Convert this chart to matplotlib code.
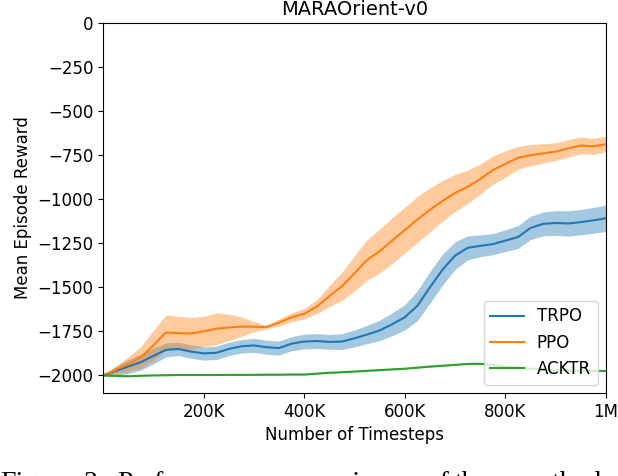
import numpy as np
import matplotlib
matplotlib.use("Agg")
import matplotlib.pyplot as plt
from matplotlib.ticker import FixedLocator, FixedFormatter

# Timesteps (thousands)
steps_k = [0, 25, 50, 75, 100, 125, 150, 175, 200, 225, 250, 275, 300, 325, 350,
           375, 400, 425, 450, 475, 500, 525, 550, 575, 600, 625, 650, 675, 700,
           725, 750, 775, 800, 825, 850, 875, 900, 925, 950, 975, 1000]

trpo_mean = [-2000, -1975, -1950, -1925, -1890, -1855, -1850, -1865, -1875, -1872,
             -1850, -1835, -1830, -1840, -1845, -1820, -1808, -1805, -1810, -1808,
             -1790, -1768, -1745, -1710, -1670, -1605, -1500, -1400, -1320, -1276,
             -1265, -1255, -1235, -1215, -1163, -1140, -1135, -1138, -1130, -1120, -1108]
trpo_std = [5, 25, 40, 45, 45, 40, 38, 38, 38, 38, 38, 38, 40, 40, 40, 40, 42, 42,
            42, 45, 48, 52, 58, 65, 72, 85, 90, 88, 78, 68, 62, 60, 62, 65, 66, 68,
            70, 72, 72, 73, 75]

ppo_mean = [-2000, -1970, -1935, -1898, -1830, -1757, -1760, -1762, -1750, -1735,
            -1728, -1723, -1724, -1726, -1700, -1670, -1650, -1610, -1550, -1495,
            -1420, -1345, -1295, -1235, -1175, -1115, -1060, -1010, -965, -930,
            -885, -835, -800, -765, -750, -740, -730, -712, -695, -700, -688]
ppo_std = [5, 20, 40, 60, 85, 100, 95, 90, 85, 90, 75, 55, 30, 10, 20, 25, 30, 40,
           60, 80, 100, 115, 125, 130, 130, 130, 125, 115, 105, 95, 85, 80, 75, 65,
           60, 55, 50, 50, 48, 45, 45]

acktr_mean = [-2000, -2003, -2005, -2002, -2000, -1999, -1998, -1998, -1998, -1998,
              -1997, -1997, -1997, -1996, -1996, -1995, -1995, -1990, -1985, -1982,
              -1978, -1974, -1970, -1966, -1962, -1956, -1950, -1945, -1940, -1935,
              -1934, -1940, -1950, -1956, -1962, -1966, -1970, -1972, -1975, -1975, -1975]
acktr_std = [2, 3, 3, 3, 3, 3, 3, 3, 3, 3, 3, 3, 3, 3, 3, 3, 3, 3, 3, 3, 3, 3, 3,
             3, 3, 3, 3, 3, 3, 3, 3, 3, 3, 3, 3, 3, 3, 3, 3, 3, 3]

series_names = ["TRPO", "PPO", "ACKTR"]
series_colors = ["#1f77b4", "#ff7f0e", "#2ca02c"]

xtick_vals = [200000, 400000, 600000, 800000, 1000000]
xtick_labels = ["200K", "400K", "600K", "800K", "1M"]
ytick_vals = [0, -250, -500, -750, -1000, -1250, -1500, -1750, -2000]

caption_words = ["Figure", "3:", "Performance", "comparisons", "of", "the", "methods"]
caption_x_px = [0, 84, 117, 269, 426, 455, 518]

fig = plt.figure(figsize=(6.18, 4.76), dpi=100)
ax = fig.add_axes([103 / 618, 1 - 393 / 476, (606 - 103) / 618, (393 - 23) / 476])

x = np.array(steps_k) * 1000.0
for mean, std, name, col in zip([trpo_mean, ppo_mean, acktr_mean],
                                [trpo_std, ppo_std, acktr_std],
                                series_names, series_colors):
    m = np.array(mean, dtype=float)
    s = np.array(std, dtype=float)
    ax.plot(x, m, color=col, lw=1.5, label=name)
    ax.fill_between(x, m - s, m + s, color=col, alpha=0.4, lw=0)

ax.set_xlim(0, 1000000)
ax.set_ylim(-2100, 0)
ax.xaxis.set_major_locator(FixedLocator(xtick_vals))
ax.xaxis.set_major_formatter(FixedFormatter(xtick_labels))
ax.set_yticks(ytick_vals)
ax.tick_params(labelsize=12)
ax.set_xlabel("Number of Timesteps", fontsize=12)
ax.set_ylabel("Mean Episode Reward", fontsize=12)
ax.set_title("MARAOrient-v0", fontsize=14)
ax.legend(loc="lower right", fontsize=12)

for w, px in zip(caption_words, caption_x_px):
    fig.text(px / 618, -14.0 / 476, w, family=["Liberation Serif", "DejaVu Serif"],
             fontsize=20, va="baseline", ha="left")

fig.savefig("out.png", dpi=100)
